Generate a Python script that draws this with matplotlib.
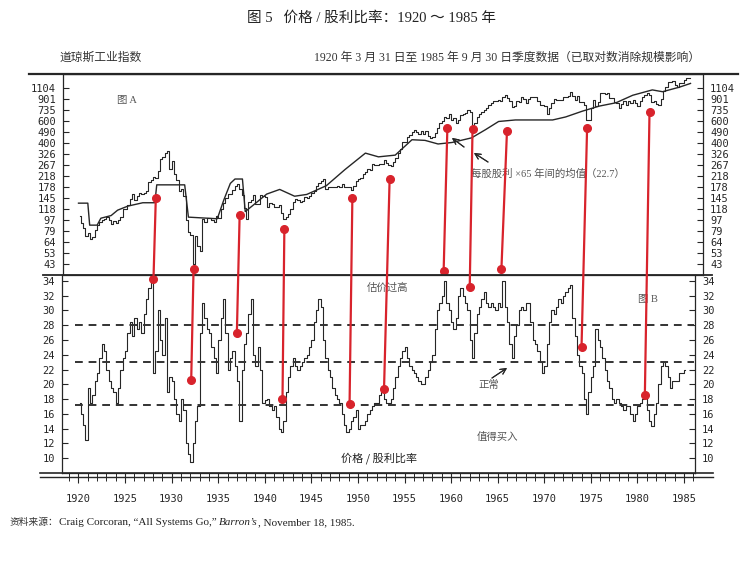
import numpy as np
import matplotlib.pyplot as plt
from matplotlib.patches import ConnectionPatch
from matplotlib.lines import Line2D
from matplotlib.ticker import NullLocator, MultipleLocator

plt.rcParams['font.family'] = ['Noto Sans CJK SC', 'DejaVu Sans']

# ---------------------------------
# data
# ---------------------------------

# Dow Jones Industrials, quarterly, 1920 Q1 .. 1985 Q3
djia = [
    104, 91, 83, 72,   76, 68, 71, 81,   88, 93, 96, 98,   102, 96, 90, 95,
    92, 96, 103, 118,   118, 128, 142, 156,   140, 152, 160, 157,   160, 166, 195, 202,
    212, 210, 240, 300,   308, 333, 343, 248,   286, 226, 204, 165,   172, 150, 96, 78,
    73, 43, 72, 60,   55, 98, 94, 100,   101, 96, 93, 104,   100, 119, 132, 144,
    156, 157, 167, 180,   187, 170, 154, 121,   99, 134, 141, 154,   131, 131, 153, 150,
    147, 122, 132, 131,   122, 123, 127, 111,   99, 103, 109, 119,   136, 143, 141, 135,
    138, 148, 146, 152,   160, 165, 181, 193,   199, 205, 172, 177,   177, 177, 177, 181,
    177, 189, 178, 177,   177, 168, 182, 200,   206, 209, 226, 235,   248, 242, 271, 269,
    269, 274, 271, 291,   279, 268, 264, 281,   303, 334, 361, 404,   409, 451, 466, 488,
    511, 492, 475, 499,   474, 503, 456, 435,   446, 478, 532, 583,   602, 643, 632, 679,
    616, 640, 580, 615,   676, 683, 701, 731,   706, 561, 579, 652,   682, 706, 732, 762,
    813, 831, 875, 874,   889, 868, 930, 969,   924, 870, 774, 785,   865, 860, 926, 905,
    840, 897, 935, 943,   935, 873, 813, 800,   785, 683, 760, 839,   904, 891, 887, 890,
    940, 929, 953, 1020,   951, 891, 947, 851,   846, 803, 608, 616,   768, 879, 794, 852,
    999, 1002, 990, 1004,   919, 916, 847, 831,   757, 819, 866, 805,   862, 842, 878, 838,
    785, 868, 932, 964,   1003, 977, 850, 875,   822, 812, 896, 1046,   1130, 1222, 1233, 1258,
    1165, 1132, 1207, 1211,   1267, 1336, 1329,
]

# dividends x 22.7 (the smooth "fair value" line)
fair_years = [1920.0, 1921.0, 1921.2, 1922.0, 1922.4, 1923.5, 1924.2, 1925.3, 1926.9,
              1928.2, 1928.4, 1931.4, 1931.8, 1934.9, 1935.6, 1936.3, 1936.8, 1937.6,
              1937.9, 1938.8, 1940.2, 1941.6, 1943.2, 1944.5, 1946.6, 1948.6, 1950.8,
              1952.2, 1954.0, 1955.8, 1957.2, 1958.6, 1960.1, 1962.2, 1963.7, 1965.1,
              1966.9, 1968.7, 1970.9, 1972.3, 1974.1, 1975.9, 1977.7, 1979.5, 1981.6,
              1982.7, 1984.5, 1985.7]
fair_vals = [132, 132, 88, 88, 100, 105, 116, 125, 133,
             133, 185, 185, 102, 99, 140, 190, 206, 206,
             113, 128, 156, 170, 150, 155, 182, 245, 332,
             310, 320, 425, 420, 393, 404, 440, 512, 595,
             612, 612, 612, 647, 720, 790, 840, 965, 1065,
             1030, 1120, 1200]

# price / dividend ratio, quarterly, 1920 Q1 .. 1985 Q1
pd_ratio = [
    17.5, 16, 14.5, 12.5,   19.5, 17.5, 18.5, 20.5,   21.5, 23.5, 25.5, 24.5,   22, 20.5, 19.5, 19,
    17.5, 19.5, 22, 23.5,   24.5, 27, 28.5, 26.5,   29, 27.5, 28.5, 27,   29.5, 31.5, 33, 34,
    21.5, 24.5, 30, 26,   24, 29, 19, 21,   20.5, 18, 16, 15,   18, 16.5, 12, 10.5,
    9.5, 12, 15, 17,   27, 31, 29, 27.5,   27, 25, 23.5, 21.5,   26, 29, 31.5, 27,
    22, 23.5, 24.5, 22.5,   20.5, 15, 22, 25.5,   27, 29.5, 31.5, 24,   22.5, 25, 22, 17.5,
    17.8, 18, 17, 16.5,   17, 15.5, 14, 13.5,   15, 19, 21, 22.5,   23.5, 22.5, 22, 22.5,
    23, 23.5, 24, 25,   26, 28.5, 30, 31.5,   30.5, 26, 23.5, 22,   21, 19.5, 18.5, 18,
    17.5, 16, 14.5, 13.5,   14, 15, 15.5, 16.5,   14, 14.5, 14.5, 15,   16, 16.5, 17, 17.5,
    17.5, 18.5, 19, 18,   17.5, 17.5, 18, 19.5,   21, 22.5, 23.5, 24.5,   25, 23.5, 22.5, 22,
    21.5, 21, 20.5, 20,   20, 21, 22, 23,   24, 27.5, 30, 31,   32, 34, 31, 30,
    28.5, 27.5, 29, 32,   33, 32, 31, 30,   26, 23.5, 27, 29.5,   30.5, 31.5, 32.5, 31,
    30.5, 31, 30.5, 30,   31, 30.5, 34, 30.5,   28.5, 25.5, 23.5, 26.5,   28, 30, 30.5, 30,
    31, 31, 28.5, 26,   25.5, 24.5, 23, 21.5,   22.5, 25.5, 28.5, 30,   29.5, 30.5, 31.5, 31,
    32, 32.5, 33, 33.5,   29, 26.5, 24, 22.5,   21.5, 18, 16, 19,   21, 22.5, 27.5, 26,
    25, 23.5, 22, 20.5,   19.5, 18, 17.5, 18,   17.5, 17, 16.5, 17,   17, 16, 15, 16,
    17, 17.5, 18, 18.5,   16.5, 15, 14.3, 16,   17.5, 20, 22.5, 23,   22.5, 21, 19.5, 20.5,
    20.5, 20.5, 21.5, 21.5,   22,
]

pd_levels = [28, 23, 17.2]

price_ticks = [43, 53, 64, 79, 97, 118, 145, 178, 218, 267, 326, 400,
               490, 600, 735, 901, 1104]
pd_ticks = [10, 12, 14, 16, 18, 20, 22, 24, 26, 28, 30, 32, 34]
year_ticks = [1920, 1925, 1930, 1935, 1940, 1945, 1950, 1955, 1960, 1965, 1970, 1975, 1980, 1985]

# red markers: upper end (Dow) and lower end (ratio, or Dow for two of them)
red_top_year = [1928.3, 1932.35, 1937.3, 1942.1, 1949.4, 1953.4, 1959.6, 1962.3, 1966.0, 1974.6, 1981.3]
red_top_val = [145, 39, 107, 82, 145, 206, 528, 514, 500, 528, 708]
red_bot_year = [1928.05, 1932.1, 1937.0, 1941.9, 1949.1, 1952.8, 1959.2, 1962.0, 1965.4, 1974.0, 1980.8]
red_bot_val = [34.3, 20.6, 26.9, 18.0, 17.3, 19.4, 38, 33.2, 39, 25.0, 18.5]
red_bot_panel = ['B', 'B', 'B', 'B', 'B', 'B', 'A', 'B', 'A', 'B', 'B']

# ---------------------------------
# layout helpers (pixel positions of the 743 x 562 page)
# ---------------------------------

W, H = 743, 562
X1920, PX_PER_YEAR = 78.5, 9.315


def box(x0, y0, x1, y1):
    return [x0 / W, 1 - y1 / H, (x1 - x0) / W, (y1 - y0) / H]


def P(x, y):
    return (x / W, 1 - y / H)


def px_year(x):
    return 1920 + (x - X1920) / PX_PER_YEAR


ink = '#262626'
red = '#d8232c'
serif_cjk = ['Liberation Serif', 'Noto Sans CJK SC']

fig = plt.figure(figsize=(W / 100, H / 100), dpi=100)
fig.patch.set_facecolor('white')

axA = fig.add_axes(box(63, 74, 703, 275))
axB = fig.add_axes(box(62, 275, 695, 473))

# ---------------------------------
# panel A : Dow Jones (log)
# ---------------------------------

t_q = 1920 + np.arange(len(djia)) * 0.25 + 0.125
axA.plot(t_q, djia, color=ink, lw=0.8, drawstyle='steps-mid')
axA.plot(fair_years, fair_vals, color=ink, lw=1.0)

axA.set_yscale('log')
axA.set_ylim(35.1, 1428)
axA.set_xlim(px_year(63), px_year(703))
axA.set_yticks(price_ticks)
axA.set_yticklabels([str(v) for v in price_ticks])
axA.yaxis.set_minor_locator(NullLocator())
axA.set_xticks([])
axA.tick_params(axis='y', direction='in', length=4, width=0.8, color=ink,
                left=True, right=True, labelleft=True, labelright=True,
                labelsize=7.5, labelcolor=ink, pad=5,
                labelfontfamily='DejaVu Sans Mono')
for s in axA.spines.values():
    s.set_color(ink)
    s.set_linewidth(0.9)

# ---------------------------------
# panel B : price / dividend ratio
# ---------------------------------

t_pd = 1920 + np.arange(len(pd_ratio)) * 0.25 + 0.125
axB.plot(t_pd, pd_ratio, color=ink, lw=0.8, drawstyle='steps-mid')
for lev in pd_levels:
    axB.hlines(lev, 1919.6, px_year(694), colors='#333333', lw=1.4,
               linestyles=(0, (4, 3)))

axB.set_ylim(7.97, 34.81)
axB.set_xlim(px_year(62), px_year(695))
axB.set_yticks(pd_ticks)
axB.set_yticklabels([str(v) for v in pd_ticks])
axB.set_xticks(year_ticks)
axB.set_xticklabels([str(v) for v in year_ticks])
axB.xaxis.set_minor_locator(MultipleLocator(1))
axB.tick_params(axis='y', direction='in', length=4, width=0.8, color=ink,
                left=True, right=True, labelleft=True, labelright=True,
                labelsize=7.5, labelcolor=ink, pad=5,
                labelfontfamily='DejaVu Sans Mono')
axB.tick_params(axis='x', which='major', direction='out', length=7, width=0.8,
                color=ink, labelsize=7.5, labelcolor=ink, pad=8,
                labelfontfamily='DejaVu Sans Mono')
axB.tick_params(axis='x', which='minor', direction='out', length=6, width=0.7,
                color=ink)
for s in axB.spines.values():
    s.set_color(ink)
    s.set_linewidth(0.9)

# long rules across the page
for (x0, x1, y, lw) in [(29, 738, 74, 1.6), (43, 712, 275, 1.3),
                        (40, 713, 473, 1.2), (40, 713, 476.5, 1.0)]:
    fig.add_artist(Line2D([x0 / W, x1 / W], [1 - y / H, 1 - y / H],
                          transform=fig.transFigure, color=ink, lw=lw))

# ---------------------------------
# red connectors
# ---------------------------------

for i in range(len(red_top_year)):
    target = axA if red_bot_panel[i] == 'A' else axB
    con = ConnectionPatch(xyA=(red_top_year[i], red_top_val[i]), coordsA=axA.transData,
                          xyB=(red_bot_year[i], red_bot_val[i]), coordsB=target.transData,
                          color=red, lw=1.6, zorder=6)
    fig.add_artist(con)

axA.plot(red_top_year, red_top_val, 'o', color=red, ms=5.5, clip_on=False, zorder=7)
for i in range(len(red_bot_year)):
    target = axA if red_bot_panel[i] == 'A' else axB
    target.plot(red_bot_year[i], red_bot_val[i], 'o', color=red, ms=5.5,
                clip_on=False, zorder=7)

# ---------------------------------
# texts
# ---------------------------------

fig.text(*P(372, 18), '图 5   价格 / 股利比率：1920 ～ 1985 年', ha='center', va='center',
         fontsize=10.5, color='#222222', family=serif_cjk)
fig.text(*P(60, 58), '道琼斯工业指数', ha='left', va='center', fontsize=8.5,
         color='#333333', family=serif_cjk)
fig.text(*P(700, 58), '1920 年 3 月 31 日至 1985 年 9 月 30 日季度数据（已取对数消除规模影响）',
         ha='right', va='center', fontsize=8.5, color='#333333', family=serif_cjk)

fig.text(*P(127, 101), '图 A', ha='center', va='center', fontsize=7.5,
         color='#555555', family=serif_cjk)
fig.text(*P(648, 300), '图 B', ha='center', va='center', fontsize=7.5,
         color='#555555', family=serif_cjk)
fig.text(*P(548, 174), '每股股利 ×65 年间的均值（22.7）', ha='center', va='center',
         fontsize=7.5, color='#555555', family=serif_cjk)
fig.text(*P(388, 288), '估价过高', ha='center', va='center', fontsize=7.5,
         color='#555555')
fig.text(*P(489, 385), '正常', ha='center', va='center', fontsize=7.5,
         color='#555555')
fig.text(*P(497, 437), '值得买入', ha='center', va='center', fontsize=7.5,
         color='#555555')
fig.text(*P(379, 458), '价格 / 股利比率', ha='center', va='center', fontsize=8,
         color='#222222')

arrow = dict(arrowstyle='->', lw=0.8, color=ink, shrinkA=0, shrinkB=0)
fig.add_artist(plt.annotate('', xy=P(452, 138), xytext=P(464, 147),
                            xycoords='figure fraction', arrowprops=arrow))
fig.add_artist(plt.annotate('', xy=P(474, 153), xytext=P(488, 162),
                            xycoords='figure fraction', arrowprops=arrow))
fig.add_artist(plt.annotate('', xy=P(507, 368), xytext=P(492, 378),
                            xycoords='figure fraction', arrowprops=arrow))

src1 = fig.text(*P(10, 525), '资料来源：', ha='left', va='baseline', fontsize=7,
                color='#333333')
src2 = plt.annotate('Craig Corcoran, \u201cAll Systems Go,\u201d ', xy=(1, 0), xycoords=src1,
                    va='bottom', ha='left', fontsize=8, color='#222222',
                    family='Liberation Serif', annotation_clip=False)
src3 = plt.annotate('Barron\u2019s', xy=(1, 0), xycoords=src2, va='bottom', ha='left',
                    fontsize=8, color='#222222', family='Liberation Serif',
                    style='italic', annotation_clip=False)
plt.annotate(', November 18, 1985.', xy=(1, 0), xycoords=src3, va='bottom', ha='left',
             fontsize=8, color='#222222', family='Liberation Serif',
             annotation_clip=False)

fig.savefig('out.png', dpi=100)
